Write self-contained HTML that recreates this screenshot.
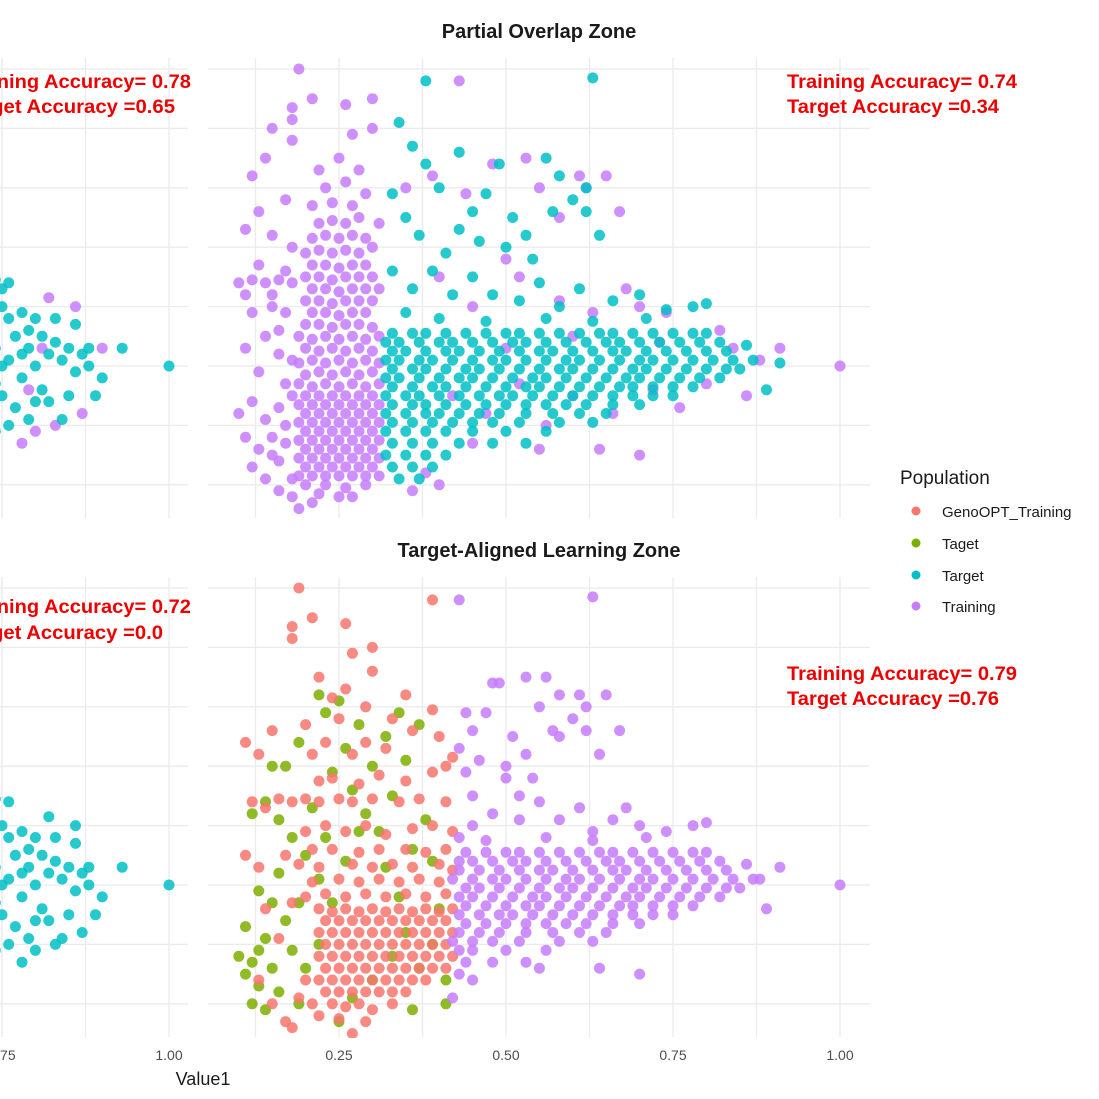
<!DOCTYPE html>
<html><head><meta charset="utf-8"><style>
html,body{margin:0;padding:0;background:#fff;}
svg{display:block;font-family:"Liberation Sans",sans-serif;}
</style></head><body>
<svg id="chart" width="1099" height="1099" viewBox="0 0 1099 1099" xmlns="http://www.w3.org/2000/svg">
<defs>
<clipPath id="clipTL"><rect x="0" y="58" width="189" height="461"/></clipPath>
<clipPath id="clipTR"><rect x="208" y="58" width="663" height="461"/></clipPath>
<clipPath id="clipBL"><rect x="0" y="577" width="189" height="461"/></clipPath>
<clipPath id="clipBR"><rect x="208" y="577" width="663" height="461"/></clipPath>
</defs>
<g id="grids"></g>
<g id="marks"></g>
<text x="539" y="38" text-anchor="middle" font-size="20" font-weight="bold" fill="#1a1a1a">Partial Overlap Zone</text>
<text x="539" y="557" text-anchor="middle" font-size="20" font-weight="bold" fill="#1a1a1a">Target-Aligned Learning Zone</text>
<g font-size="19" font-weight="bold" fill="#ee0000">
<text x="191" y="88" text-anchor="end" textLength="230" lengthAdjust="spacingAndGlyphs">Training Accuracy= 0.78</text>
<text x="175" y="113" text-anchor="end" textLength="214" lengthAdjust="spacingAndGlyphs">Target Accuracy =0.65</text></g>
<g font-size="19" font-weight="bold" fill="#ee0000">
<text x="787" y="88" textLength="230" lengthAdjust="spacingAndGlyphs">Training Accuracy= 0.74</text>
<text x="787" y="113" textLength="212" lengthAdjust="spacingAndGlyphs">Target Accuracy =0.34</text></g>
<g font-size="19" font-weight="bold" fill="#ee0000">
<text x="191" y="613" text-anchor="end" textLength="230" lengthAdjust="spacingAndGlyphs">Training Accuracy= 0.72</text>
<text x="163" y="639" text-anchor="end" textLength="202" lengthAdjust="spacingAndGlyphs">Target Accuracy =0.0</text></g>
<g font-size="19" font-weight="bold" fill="#ee0000">
<text x="787" y="680" textLength="230" lengthAdjust="spacingAndGlyphs">Training Accuracy= 0.79</text>
<text x="787" y="705" textLength="212" lengthAdjust="spacingAndGlyphs">Target Accuracy =0.76</text></g>
<g id="ticks" font-size="14" fill="#4d4d4d"></g>
<text x="203" y="1085" text-anchor="middle" font-size="18" fill="#1a1a1a">Value1</text>
<g>
<text x="900" y="484" font-size="19" fill="#1a1a1a">Population</text>
<g><circle cx="916" cy="511" r="4.5" fill="#F8766D"/><text x="942" y="517" font-size="15" fill="#1a1a1a">GenoOPT_Training</text></g>
<g><circle cx="916" cy="543" r="4.5" fill="#7CAE00"/><text x="942" y="549" font-size="15" fill="#1a1a1a">Taget</text></g>
<g><circle cx="916" cy="575" r="4.5" fill="#00BFC4"/><text x="942" y="581" font-size="15" fill="#1a1a1a">Target</text></g>
<g><circle cx="916" cy="606" r="4.5" fill="#C77CFF"/><text x="942" y="612" font-size="15" fill="#1a1a1a">Training</text></g>
</g>
</svg>
<script>
const xTickValues = [0.75, 1.00, 0.25, 0.50, 0.75, 1.00];
const xTickLabels = ["0.75", "1.00", "0.25", "0.50", "0.75", "1.00"];
const xTickPanel = ["L", "L", "R", "R", "R", "R"];
const xGridValues = [0.125, 0.25, 0.375, 0.5, 0.625, 0.75, 0.875, 1.0];
const yGridValues = [-2, -1, 0, 1, 2, 3, 4, 5];

const tlTarget = [[.74,.3],[.76,.1],[.78,-.2],[.75,-.5],[.77,.5],[.79,.3],[.80,0],[.82,.2],[.81,-.4],[.83,.4],[.84,.1],[.86,-.1],[.85,-.5],[.87,.2],[.88,0],[.80,.8],[.78,.9],[.83,.8],[.76,.8],[.74,-.3],[.77,-.7],[.79,-.9],[.82,-.6],[.84,-.9],[.88,.3],[.90,-.2],[.75,1.0],[.76,1.4],[.93,.3],[1.0,0],[.74,-1.1],[.86,.7],[.89,-.5],[.75,.0],[.78,.2],[.80,-.6],[.76,-1.0],[.73,.6],[.79,.6],[.81,.5],[.85,.3],[.75,1.3],[.74,1.45]];
const tlTraining = [[.82,1.15],[.86,1.0],[.90,.3],[.87,-.8],[.80,-1.1],[.78,-1.3],[.83,-1.0],[.81,.3],[.79,-.4]];
const blTarget = [[.74,.3],[.76,.1],[.78,-.2],[.75,-.5],[.77,.5],[.79,.3],[.80,0],[.82,.2],[.81,-.4],[.83,.4],[.84,.1],[.86,-.1],[.85,-.5],[.87,.2],[.88,0],[.80,.8],[.78,.9],[.83,.8],[.76,.8],[.74,-.3],[.77,-.7],[.79,-.9],[.82,-.6],[.84,-.9],[.88,.3],[.90,-.2],[.75,1.0],[.76,1.4],[.93,.3],[1.0,0],[.74,-1.1],[.86,.7],[.89,-.5],[.75,0],[.78,.2],[.80,-.6],[.76,-1.0],[.73,.6],[.79,.6],[.81,.5],[.85,.3],[.82,1.15],[.86,1.0],[.87,-.8],[.80,-1.1],[.78,-1.3],[.83,-1.0],[.74,1.45]];

const trTraining = [
[.19,-.3],[.21,-.35],[.23,-.3],[.25,-.35],[.27,-.3],[.29,-.35],[.31,-.3],
[.20,-.5],[.22,-.5],[.24,-.5],[.26,-.5],[.28,-.5],[.30,-.5],
[.19,-.65],[.21,-.65],[.23,-.65],[.25,-.65],[.27,-.65],[.29,-.65],[.31,-.65],
[.20,-.8],[.22,-.8],[.24,-.8],[.26,-.8],[.28,-.8],[.30,-.8],
[.19,-.95],[.21,-.95],[.23,-.95],[.25,-.95],[.27,-.95],[.29,-.95],[.31,-.95],
[.20,-1.1],[.22,-1.1],[.24,-1.1],[.26,-1.1],[.28,-1.1],[.30,-1.1],
[.19,-1.25],[.21,-1.25],[.23,-1.25],[.25,-1.25],[.27,-1.25],[.29,-1.25],[.31,-1.25],
[.20,-1.4],[.22,-1.4],[.24,-1.4],[.26,-1.4],[.28,-1.4],[.30,-1.4],
[.19,-1.55],[.21,-1.55],[.23,-1.55],[.25,-1.55],[.27,-1.55],[.29,-1.55],[.31,-1.55],
[.20,-1.7],[.22,-1.7],[.24,-1.7],[.26,-1.7],[.28,-1.7],[.30,-1.7],
[.19,-1.85],[.21,-1.85],[.23,-1.85],[.25,-1.85],[.27,-1.85],[.29,-1.85],[.31,-1.85],
[.20,-2.0],[.23,-2.0],[.26,-2.05],[.29,-2.0],[.22,-2.15],[.25,-2.2],[.21,-2.3],[.27,-2.2],
[.20,-.15],[.22,-.1],[.24,-.15],[.26,-.1],[.28,-.15],[.30,-.1],
[.19,.05],[.21,.1],[.23,.05],[.25,.1],[.27,.05],[.29,.1],[.31,.05],
[.20,.3],[.22,.25],[.24,.3],[.26,.25],[.28,.3],[.30,.25],
[.19,.5],[.21,.45],[.23,.5],[.25,.45],[.27,.5],[.29,.45],[.31,.5],
[.20,.7],[.22,.7],[.24,.65],[.26,.7],[.28,.7],[.30,.65],
[.21,.9],[.23,.9],[.25,.85],[.27,.9],[.29,.9],
[.20,1.1],[.22,1.1],[.24,1.05],[.26,1.1],[.28,1.1],[.30,1.1],
[.21,1.3],[.23,1.3],[.25,1.25],[.27,1.3],[.29,1.3],[.31,1.3],
[.20,1.5],[.22,1.5],[.24,1.45],[.26,1.5],[.28,1.5],[.30,1.5],
[.21,1.7],[.23,1.7],[.25,1.65],[.27,1.7],[.29,1.7],
[.20,1.9],[.22,1.95],[.24,1.9],[.26,1.95],[.28,1.9],[.30,2.0],
[.21,2.15],[.23,2.2],[.25,2.15],[.27,2.2],[.29,2.15],
[.22,2.4],[.24,2.45],[.26,2.4],[.28,2.5],[.31,2.4],
[.21,2.7],[.24,2.75],[.27,2.7],[.29,2.9],[.23,3.0],[.26,3.1],[.22,3.3],[.25,3.5],[.28,3.3],
[.10,1.4],[.12,1.45],[.14,1.4],[.16,1.45],[.18,1.4],[.11,1.2],[.15,1.2],[.17,1.6],[.13,1.7],[.12,.9],[.14,.5],[.11,.3],[.16,.2],[.13,-.1],[.17,-.3],[.10,-.8],[.12,-.6],[.14,-.9],[.16,-.7],[.11,-1.2],[.13,-1.4],[.15,-1.2],[.17,-1.0],[.12,-1.7],[.14,-1.9],[.16,-1.6],[.18,-1.9],[.16,-2.1],[.18,-2.2],[.11,2.3],[.13,2.6],[.15,2.2],[.17,2.8],[.12,3.2],[.14,3.5],[.15,4.0],[.18,3.8],[.17,.9],[.18,.1],[.19,-2.4],[.15,-1.5],[.17,-1.3],[.18,-.5],[.16,.6],[.18,2.0],[.15,1.0],
[.19,5.0],[.21,4.5],[.18,4.15],[.18,4.35],[.27,3.9],[.30,4.0],[.26,4.4],[.43,4.8],[.30,4.5],
[.35,3.0],[.39,3.2],[.44,2.9],[.48,3.4],[.53,3.5],[.55,3.0],[.58,2.5],[.61,3.2],[.62,3.0],[.65,3.2],[.67,2.6],[.70,1.0],[.40,1.5],[.45,1.0],[.50,1.8],[.52,1.5],[.58,1.1],[.63,.9],[.68,1.3],[.74,.9],[.42,-.5],[.47,-.8],[.52,-.3],[.56,-1.0],[.60,-.5],[.66,-.8],[.72,-.4],[.76,-.7],[.80,-.3],[.84,.3],[.88,.1],[.91,.3],[1.0,0],[.45,-1.3],[.55,-1.4],[.64,-1.4],[.70,-1.5],[.38,-1.8],[.50,.3],[.60,.5],[.73,.4],[.82,.6],[.86,-.5],[.40,-2.0],[.36,-2.1]];

const trTarget = [
[.33,.55],[.36,.55],[.38,.55],[.41,.55],[.44,.55],[.47,.55],[.50,.55],[.52,.55],[.55,.55],[.58,.55],[.61,.55],[.64,.55],[.66,.55],[.69,.55],[.72,.55],[.75,.55],[.78,.55],[.80,.55],
[.32,.4],[.34,.4],[.37,.4],[.40,.4],[.42,.4],[.45,.4],[.48,.4],[.51,.4],[.53,.4],[.56,.4],[.59,.4],[.62,.4],[.65,.4],[.67,.4],[.70,.4],[.73,.4],[.76,.4],[.79,.4],[.82,.4],
[.33,.25],[.35,.25],[.38,.25],[.41,.25],[.43,.25],[.46,.25],[.49,.25],[.52,.25],[.55,.25],[.57,.25],[.60,.25],[.63,.25],[.66,.25],[.68,.25],[.71,.25],[.74,.25],[.77,.25],[.80,.25],[.83,.25],
[.32,.1],[.34,.1],[.37,.1],[.39,.1],[.42,.1],[.45,.1],[.48,.1],[.50,.1],[.53,.1],[.56,.1],[.59,.1],[.61,.1],[.64,.1],[.67,.1],[.70,.1],[.72,.1],[.75,.1],[.78,.1],[.81,.1],[.84,.1],[.87,.1],
[.33,-.05],[.36,-.05],[.38,-.05],[.41,-.05],[.44,-.05],[.46,-.05],[.49,-.05],[.52,-.05],[.55,-.05],[.58,-.05],[.60,-.05],[.63,-.05],[.66,-.05],[.69,-.05],[.71,-.05],[.74,-.05],[.77,-.05],[.80,-.05],[.83,-.05],[.85,-.05],
[.32,-.2],[.34,-.2],[.37,-.2],[.40,-.2],[.43,-.2],[.45,-.2],[.48,-.2],[.51,-.2],[.54,-.2],[.56,-.2],[.59,-.2],[.62,-.2],[.65,-.2],[.68,-.2],[.70,-.2],[.73,-.2],[.76,-.2],[.79,-.2],[.82,-.2],
[.33,-.35],[.36,-.35],[.39,-.35],[.41,-.35],[.44,-.35],[.47,-.35],[.50,-.35],[.53,-.35],[.55,-.35],[.58,-.35],[.61,-.35],[.64,-.35],[.67,-.35],[.69,-.35],[.72,-.35],[.75,-.35],[.78,-.35],
[.32,-.5],[.35,-.5],[.37,-.5],[.40,-.5],[.43,-.5],[.46,-.5],[.49,-.5],[.51,-.5],[.54,-.5],[.57,-.5],[.60,-.5],[.63,-.5],[.66,-.5],[.69,-.5],[.72,-.5],[.75,-.5],
[.33,-.65],[.36,-.65],[.38,-.65],[.41,-.65],[.44,-.65],[.47,-.65],[.50,-.65],[.53,-.65],[.56,-.65],[.59,-.65],[.62,-.65],[.66,-.65],[.70,-.65],
[.32,-.8],[.35,-.8],[.38,-.8],[.40,-.8],[.43,-.8],[.46,-.8],[.49,-.8],[.53,-.8],[.57,-.8],[.61,-.8],[.65,-.8],
[.33,-.95],[.36,-.95],[.39,-.95],[.42,-.95],[.45,-.95],[.48,-.95],[.52,-.95],[.58,-.95],[.63,-.95],
[.32,-1.1],[.35,-1.1],[.38,-1.1],[.41,-1.1],[.45,-1.1],[.50,-1.1],[.56,-1.1],
[.33,-1.3],[.36,-1.3],[.39,-1.3],[.43,-1.3],[.48,-1.3],[.53,-1.3],
[.32,-1.5],[.35,-1.5],[.38,-1.5],[.41,-1.5],[.33,-1.7],[.36,-1.7],[.39,-1.7],[.34,-1.9],[.37,-1.9],
[.34,4.1],[.36,3.7],[.38,3.4],[.40,3.0],[.43,3.6],[.45,2.6],[.47,2.9],[.49,3.4],[.51,2.5],[.53,2.2],[.56,3.5],[.58,3.2],[.60,2.8],[.62,3.0],[.62,2.6],[.64,2.2],[.35,2.5],[.37,2.2],[.41,1.9],[.43,2.3],[.46,2.1],[.50,2.0],[.54,1.8],[.33,1.6],[.36,1.3],[.39,1.6],[.42,1.2],[.45,1.5],[.48,1.2],[.52,1.1],[.55,1.4],[.58,1.0],[.61,1.3],[.66,1.1],[.70,1.2],[.74,.95],[.78,1.0],[.80,1.05],[.33,2.9],[.57,2.6],[.35,.9],[.40,.8],[.47,.75],[.56,.8],[.63,.75],[.71,.8],
[.38,4.8],[.63,4.85],[.91,.05],[.89,-.4],[.86,.35]];

const brTaget = [
[.12,-1.3],[.13,-1.1],[.14,-.9],[.15,-1.4],[.11,-1.5],[.13,-1.7],[.12,-2.0],[.14,-2.1],[.16,-1.8],[.17,-.6],[.15,-.3],[.13,-.1],[.16,.2],[.18,.8],[.12,1.2],[.14,1.4],[.16,1.1],[.17,2.0],[.19,2.4],[.15,2.0],[.22,3.2],[.23,2.9],[.25,3.1],[.28,2.7],[.26,2.3],[.24,1.9],[.27,1.6],[.29,1.2],[.31,.9],[.33,1.5],[.35,2.1],[.37,2.7],[.30,2.0],[.20,.5],[.22,.1],[.24,-.3],[.26,.4],[.28,.9],[.32,.3],[.34,-.2],[.36,.6],[.38,1.1],[.40,-.4],[.39,-1.0],[.41,-1.6],[.37,-1.4],[.35,-.8],[.33,-1.2],[.30,-1.6],[.27,-1.9],[.25,-2.3],[.22,-1.0],[.20,-1.4],[.18,-1.1],[.19,-.3],[.21,1.3],[.23,.8],[.32,2.5],[.34,2.9],[.39,.4],[.41,-2.0],[.36,-2.1],[.10,-1.2],[.11,-.7],[.19,-2.0]];
const brGeno = [
[.22,-.4],[.24,-.45],[.26,-.4],[.28,-.45],[.30,-.4],[.32,-.45],[.34,-.4],[.36,-.45],[.38,-.4],[.40,-.45],[.42,-.4],
[.23,-.6],[.25,-.6],[.27,-.6],[.29,-.6],[.31,-.6],[.33,-.6],[.35,-.6],[.37,-.6],[.39,-.6],[.41,-.6],
[.22,-.8],[.24,-.8],[.26,-.8],[.28,-.8],[.30,-.8],[.32,-.8],[.34,-.8],[.36,-.8],[.38,-.8],[.40,-.8],[.42,-.8],
[.23,-1.0],[.25,-1.0],[.27,-1.0],[.29,-1.0],[.31,-1.0],[.33,-1.0],[.35,-1.0],[.37,-1.0],[.39,-1.0],[.41,-1.0],
[.22,-1.2],[.24,-1.2],[.26,-1.2],[.28,-1.2],[.30,-1.2],[.32,-1.2],[.34,-1.2],[.36,-1.2],[.38,-1.2],[.40,-1.2],[.42,-1.2],
[.23,-1.4],[.25,-1.4],[.27,-1.4],[.29,-1.4],[.31,-1.4],[.33,-1.4],[.35,-1.4],[.37,-1.4],[.39,-1.4],[.41,-1.4],
[.22,-1.6],[.24,-1.6],[.26,-1.6],[.28,-1.6],[.30,-1.6],[.32,-1.6],[.34,-1.6],[.36,-1.6],[.38,-1.6],
[.23,-1.8],[.25,-1.8],[.27,-1.8],[.29,-1.8],[.31,-1.8],[.33,-1.8],[.35,-1.8],
[.21,-2.0],[.24,-2.0],[.26,-2.05],[.28,-2.0],[.30,-2.1],[.33,-2.0],[.22,-2.2],[.25,-2.25],[.29,-2.3],[.27,-2.5],[.19,-1.9],[.20,-1.6],
[.20,-.2],[.23,-.15],[.26,-.2],[.29,-.15],[.32,-.2],[.35,-.15],[.38,-.2],[.41,-.15],
[.21,.05],[.25,.1],[.28,.05],[.31,.1],[.34,.05],[.37,.1],[.40,.05],
[.19,.35],[.22,.3],[.27,.35],[.30,.3],[.33,.35],[.36,.3],[.40,.35],[.42,.25],
[.21,.6],[.24,.6],[.28,.55],[.31,.6],[.35,.6],[.38,.55],[.41,.6],
[.12,1.4],[.14,1.3],[.16,1.45],[.18,1.4],[.20,1.45],[.22,1.4],[.25,1.45],[.27,1.4],[.30,1.45],[.34,1.4],[.37,1.45],[.41,1.4],
[.20,.9],[.23,1.0],[.26,.9],[.29,1.0],[.32,.85],[.36,.95],[.39,1.0],[.42,.9],
[.22,1.75],[.24,1.8],[.28,1.7],[.31,1.85],[.35,1.75],[.39,1.9],[.41,2.0],[.42,2.15],
[.21,2.2],[.23,2.4],[.27,2.2],[.29,2.4],[.32,2.3],[.36,2.6],[.40,2.5],
[.20,2.7],[.25,2.8],[.29,3.0],[.33,2.8],[.26,3.3],[.22,3.5],[.24,3.15],[.35,3.2],[.39,2.95],[.30,3.6],
[.11,2.4],[.13,2.2],[.11,.5],[.13,.3],[.14,-.4],[.16,-.9],[.18,-.3],[.17,.5],[.15,2.6],
[.19,5.0],[.21,4.5],[.18,4.15],[.18,4.35],[.27,3.9],[.30,4.0],[.26,4.4],[.39,4.8],[.13,-1.6],[.15,-2.0],[.17,-2.3],[.18,-2.4]];
const brTraining = [
[.44,.55],[.47,.55],[.50,.55],[.52,.55],[.55,.55],[.58,.55],[.61,.55],[.64,.55],[.66,.55],[.69,.55],[.72,.55],[.75,.55],[.78,.55],[.80,.55],
[.43,.4],[.45,.4],[.48,.4],[.51,.4],[.53,.4],[.56,.4],[.59,.4],[.62,.4],[.65,.4],[.67,.4],[.70,.4],[.73,.4],[.76,.4],[.79,.4],[.82,.4],
[.43,.25],[.46,.25],[.49,.25],[.52,.25],[.55,.25],[.57,.25],[.60,.25],[.63,.25],[.66,.25],[.68,.25],[.71,.25],[.74,.25],[.77,.25],[.80,.25],[.83,.25],
[.42,.1],[.45,.1],[.48,.1],[.50,.1],[.53,.1],[.56,.1],[.59,.1],[.61,.1],[.64,.1],[.67,.1],[.70,.1],[.72,.1],[.75,.1],[.78,.1],[.81,.1],[.84,.1],[.87,.1],
[.44,-.05],[.46,-.05],[.49,-.05],[.52,-.05],[.55,-.05],[.58,-.05],[.60,-.05],[.63,-.05],[.66,-.05],[.69,-.05],[.71,-.05],[.74,-.05],[.77,-.05],[.80,-.05],[.83,-.05],[.85,-.05],
[.43,-.2],[.45,-.2],[.48,-.2],[.51,-.2],[.54,-.2],[.56,-.2],[.59,-.2],[.62,-.2],[.65,-.2],[.68,-.2],[.70,-.2],[.73,-.2],[.76,-.2],[.79,-.2],[.82,-.2],
[.44,-.35],[.47,-.35],[.50,-.35],[.53,-.35],[.55,-.35],[.58,-.35],[.61,-.35],[.64,-.35],[.67,-.35],[.69,-.35],[.72,-.35],[.75,-.35],[.78,-.35],
[.43,-.5],[.46,-.5],[.49,-.5],[.51,-.5],[.54,-.5],[.57,-.5],[.60,-.5],[.63,-.5],[.66,-.5],[.69,-.5],[.72,-.5],[.75,-.5],
[.44,-.65],[.47,-.65],[.50,-.65],[.53,-.65],[.56,-.65],[.59,-.65],[.62,-.65],[.66,-.65],[.70,-.65],
[.43,-.8],[.46,-.8],[.49,-.8],[.53,-.8],[.57,-.8],[.61,-.8],[.65,-.8],
[.42,-.95],[.45,-.95],[.48,-.95],[.52,-.95],[.58,-.95],[.63,-.95],
[.43,-1.1],[.45,-1.1],[.50,-1.1],[.56,-1.1],[.44,-1.3],[.48,-1.3],[.53,-1.3],[.43,-1.5],[.45,-1.6],[.42,-1.9],
[.44,2.9],[.48,3.4],[.53,3.5],[.55,3.0],[.58,2.5],[.61,3.2],[.62,3.0],[.65,3.2],[.67,2.6],[.70,1.0],[.45,1.0],[.50,1.8],[.52,1.5],[.58,1.1],[.63,.9],[.68,1.3],[.74,.9],[.88,.1],[.91,.3],[1.0,0],[.55,-1.4],[.64,-1.4],[.70,-1.5],
[.45,2.6],[.47,2.9],[.49,3.4],[.51,2.5],[.53,2.2],[.56,3.5],[.58,3.2],[.60,2.8],[.62,2.6],[.64,2.2],[.43,2.3],[.46,2.1],[.50,2.0],[.54,1.8],[.45,1.5],[.48,1.2],[.52,1.1],[.55,1.4],[.61,1.3],[.66,1.1],[.78,1.0],[.80,1.05],[.57,2.6],[.47,.75],[.56,.8],[.63,.75],[.71,.8],[.43,4.8],[.63,4.85],[.89,-.4],[.86,.35],[.44,1.9],[.43,.8]];

const svgNS = "http://www.w3.org/2000/svg";
const COLORS = {geno:"#F8766D", taget:"#7CAE00", target:"#00BFC4", training:"#C77CFF"};
function xR(v){ return 172 + v*668; }
function xL(v){ return 169 + (v-1)*668; }
function yT(v){ return 366 - v*59.4; }
function yB(v){ return 885 - v*59.4; }

const grids = document.getElementById('grids');
function line(x1,y1,x2,y2){
  const l = document.createElementNS(svgNS,'line');
  l.setAttribute('x1',x1); l.setAttribute('y1',y1); l.setAttribute('x2',x2); l.setAttribute('y2',y2);
  l.setAttribute('stroke','#ebebeb'); l.setAttribute('stroke-width','1.3');
  
  
  grids.appendChild(l);
}
[[yT,58,518],[yB,577,1037]].forEach(([yf,y0,y1])=>{
  yGridValues.forEach(v=>{ line(0,yf(v),188,yf(v)); line(208,yf(v),870,yf(v)); });
  xGridValues.forEach(v=>{
    if (xL(v)>=0 && xL(v)<=188) line(xL(v),y0,xL(v),y1);
    if (xR(v)>=208 && xR(v)<=870) line(xR(v),y0,xR(v),y1);
  });
  line(xL(0.75),y0,xL(0.75),y1);
});

const marks = document.getElementById('marks');
function drawSeries(data, color, xf, yf, clip, name){
  const g = document.createElementNS(svgNS,'g');
  g.setAttribute('clip-path','url(#'+clip+')');
  
  
  data.forEach(d=>{
    const c = document.createElementNS(svgNS,'circle');
    c.setAttribute('cx', xf(d[0]).toFixed(1));
    c.setAttribute('cy', yf(d[1]).toFixed(1));
    c.setAttribute('r', '5.5');
    c.setAttribute('fill', color);
    c.setAttribute('fill-opacity', '0.85');
    
    
    g.appendChild(c);
  });
  marks.appendChild(g);
}
drawSeries(tlTraining, COLORS.training, xL, yT, 'clipTL', 'top-left-training-points');
drawSeries(tlTarget, COLORS.target, xL, yT, 'clipTL', 'top-left-target-points');
drawSeries(trTraining, COLORS.training, xR, yT, 'clipTR', 'top-right-training-points');
drawSeries(trTarget, COLORS.target, xR, yT, 'clipTR', 'top-right-target-points');
drawSeries(blTarget, COLORS.target, xL, yB, 'clipBL', 'bottom-left-target-points');
drawSeries(brTaget, COLORS.taget, xR, yB, 'clipBR', 'bottom-right-taget-points');
drawSeries(brGeno, COLORS.geno, xR, yB, 'clipBR', 'bottom-right-genoopt-points');
drawSeries(brTraining, COLORS.training, xR, yB, 'clipBR', 'bottom-right-training-points');

const ticks = document.getElementById('ticks');
xTickValues.forEach((v,i)=>{
  const t = document.createElementNS(svgNS,'text');
  t.setAttribute('x', (xTickPanel[i]==='L' ? xL(v) : xR(v)).toFixed(1));
  t.setAttribute('y', 1060);
  t.setAttribute('text-anchor','middle');
  
  
  t.textContent = xTickLabels[i];
  ticks.appendChild(t);
});
</script>
</body></html>
